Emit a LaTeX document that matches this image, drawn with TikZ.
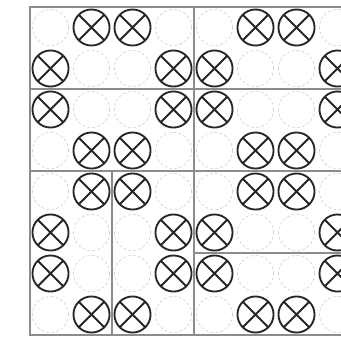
\documentclass[tikz,border=0pt]{standalone}
\usepackage{tikz}

\begin{document}
\begin{tikzpicture}[
  x=1cm, y=-1cm,
  ghost/.style={circle, draw=gray!40, dash pattern=on 2pt off 1.5pt, line width=0.4pt,
                minimum size=0.88cm, inner sep=0pt},
  marked/.style={circle, draw=black!85, line width=1.3pt, minimum size=0.88cm, inner sep=0pt,
                 path picture={\draw[black!85, line width=1.3pt]
                   (path picture bounding box.north west) -- (path picture bounding box.south east)
                   (path picture bounding box.north east) -- (path picture bounding box.south west);}},
  frame/.style={draw=gray!90, line width=0.9pt}
]
  \useasboundingbox (-0.732,-0.171) rectangle (7.585,8.073);
  \clip (-0.732,-0.171) rectangle (7.585,8.073);

  % outer frame and block borders
  \draw[frame] (8,0) -- (0,0) -- (0,8) -- (8,8);
  \draw[frame] (4,0) -- (4,8);
  \draw[frame] (0,2) -- (8,2);
  \draw[frame] (0,4) -- (8,4);
  \draw[frame] (2,4) -- (2,8);
  \draw[frame] (4,6) -- (8,6);

  % empty places
  \foreach \r in {0,...,7}
    \foreach \c in {0,...,7}
      \node[ghost] (g-\r-\c) at (\c+0.5,\r+0.5) {};

  % crossed places
  \foreach \r/\cols in {0/{1,2,5,6}, 1/{0,3,4,7}, 2/{0,3,4,7}, 3/{1,2,5,6},
                        4/{1,2,5,6}, 5/{0,3,4,7}, 6/{0,3,4,7}, 7/{1,2,5,6}}
    \foreach \c in \cols
      \node[marked] (m-\r-\c) at (\c+0.5,\r+0.5) {};
\end{tikzpicture}
\end{document}
